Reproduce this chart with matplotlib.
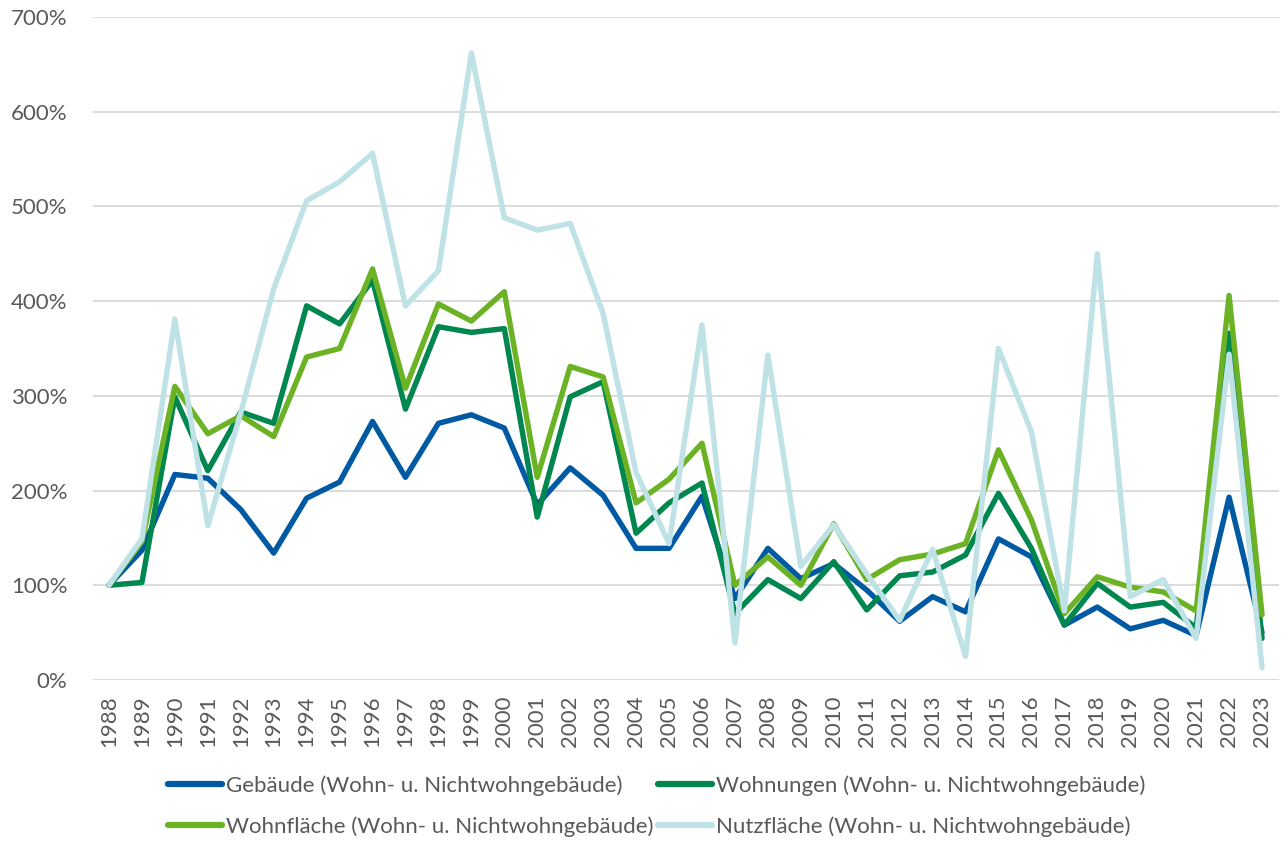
import matplotlib
matplotlib.use("Agg")
import matplotlib.pyplot as plt
from matplotlib.ticker import FuncFormatter, MultipleLocator

years = list(range(1988, 2024))

gebaeude = [100, 137, 217, 213, 180, 134, 192, 209, 273, 214, 271, 280, 266, 185,
            224, 195, 139, 139, 194, 86, 139, 107, 123, 95, 62, 88, 72, 149,
            130, 58, 77, 54, 63, 47, 193, 50]
wohnungen = [100, 103, 299, 221, 283, 271, 395, 376, 422, 286, 373, 367, 371, 172,
             299, 315, 155, 187, 208, 70, 106, 86, 125, 74, 110, 114, 132, 197,
             139, 58, 102, 77, 82, 55, 366, 44]
wohnflaeche = [100, 146, 310, 260, 279, 257, 341, 350, 434, 308, 397, 379, 410, 214,
               331, 320, 187, 212, 250, 100, 130, 100, 165, 106, 127, 133, 144, 243,
               169, 70, 109, 98, 93, 73, 406, 69]
nutzflaeche = [100, 149, 381, 163, 282, 413, 506, 526, 556, 395, 432, 662, 488, 475,
               482, 387, 219, 144, 375, 39, 343, 120, 164, 112, 63, 138, 25, 350,
               262, 73, 450, 88, 106, 44, 344, 13]

labels = ["Gebäude (Wohn- u. Nichtwohngebäude)",
          "Wohnungen (Wohn- u. Nichtwohngebäude)",
          "Wohnfläche (Wohn- u. Nichtwohngebäude)",
          "Nutzfläche (Wohn- u. Nichtwohngebäude)"]
colors = ["#0059A3", "#00864F", "#6BB224", "#BEE2E6"]
series = [gebaeude, wohnungen, wohnflaeche, nutzflaeche]

plt.rcParams['font.family'] = ['Lato', 'DejaVu Sans']
text_color = "#595959"

fig = plt.figure(figsize=(12.83, 8.43), dpi=100)
ax = fig.add_axes([92.5/1283, 1-680/843, (1278.5-92.5)/1283, (680-17)/843])

x = list(range(len(years)))
handles = []
for vals, c, lab in zip(series, colors, labels):
    h, = ax.plot(x, vals, color=c, lw=3.9, solid_joinstyle='round',
                 solid_capstyle='round', label=lab, zorder=3)
    handles.append(h)

ax.set_xlim(-0.5, len(years) - 0.5)
ax.set_ylim(0, 700)
ax.yaxis.set_major_locator(MultipleLocator(100))
ax.yaxis.set_major_formatter(FuncFormatter(lambda v, p: f"{int(v)}%"))
ax.set_xticks(x)
ax.set_xticklabels([str(y) for y in years], rotation=90)
ax.grid(axis='y', color='#D9D9D9', lw=1.3, zorder=0)
ax.set_axisbelow(True)
for s in ax.spines.values():
    s.set_visible(False)
ax.tick_params(axis='both', length=0, labelsize=16, colors=text_color)
ax.tick_params(axis='y', pad=18)
ax.tick_params(axis='x', pad=11)

order = [0, 2, 1, 3]
leg = fig.legend(handles=[handles[i] for i in order],
                 labels=[labels[i] for i in order], loc='center',
                 bbox_to_anchor=(0.512, 1-806/843), ncol=2, frameon=False,
                 fontsize=16, handlelength=2.4, handletextpad=0.2,
                 columnspacing=0.2, labelspacing=0.9)
for t in leg.get_texts():
    t.set_color(text_color)
for l in leg.get_lines():
    l.set_linewidth(4.5)

fig.savefig("out.png", dpi=100)
